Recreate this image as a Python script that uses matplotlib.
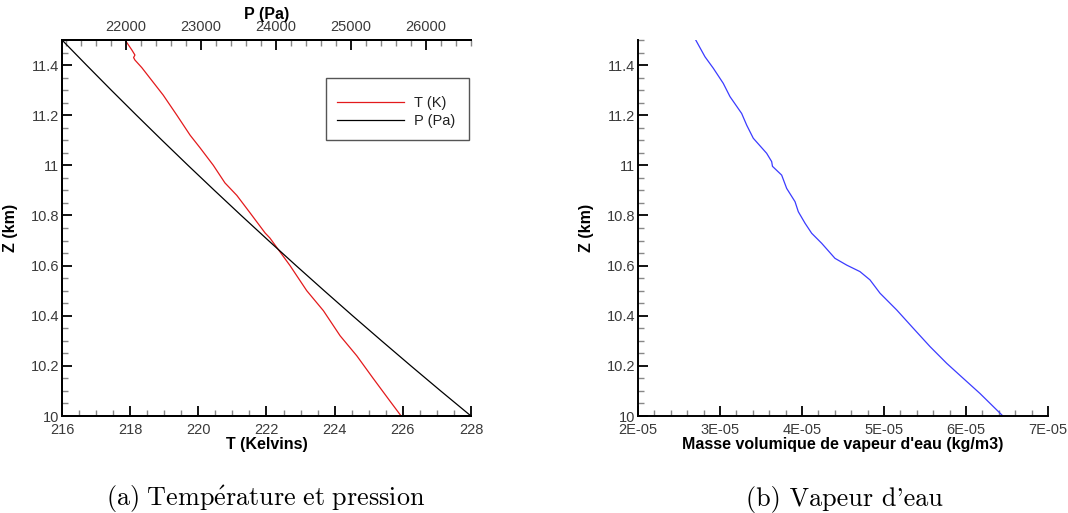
import matplotlib
matplotlib.use("Agg")
import matplotlib.pyplot as plt
from matplotlib.patches import Rectangle
from matplotlib.ticker import MultipleLocator, FuncFormatter

# ---- data ----
# (a) temperature profile
z_temp = [11.50, 11.46, 11.44, 11.43, 11.42, 11.39, 11.28, 11.20, 11.12, 11.07,
          11.00, 10.93, 10.88, 10.81, 10.73, 10.71, 10.60, 10.50, 10.42, 10.32,
          10.24, 10.15, 10.06, 10.00]
temp_k = [217.85, 218.05, 218.14, 218.10, 218.14, 218.34, 218.97, 219.37, 219.76, 220.05,
          220.44, 220.78, 221.13, 221.52, 221.96, 222.10, 222.69, 223.18, 223.67, 224.16,
          224.65, 225.13, 225.62, 225.95]

# (a) pressure profile
z_pres = [10.0, 10.1, 10.2, 10.3, 10.4, 10.5, 10.6, 10.7, 10.8, 10.9,
          11.0, 11.1, 11.2, 11.3, 11.4, 11.5]
pres_pa = [26600, 26196, 25799, 25408, 25022, 24643, 24269, 23901, 23538, 23181,
           22829, 22483, 22142, 21806, 21476, 21150]

# (b) water vapour density profile
z_vap = [11.500, 11.433, 11.387, 11.327, 11.274, 11.207, 11.160, 11.108, 11.048, 11.015,
         10.996, 10.961, 10.908, 10.855, 10.815, 10.769, 10.729, 10.689, 10.629, 10.602,
         10.576, 10.543, 10.490, 10.423, 10.350, 10.277, 10.210, 10.150, 10.090, 10.000]
rho_vap = [2.704e-5, 2.817e-5, 2.919e-5, 3.040e-5, 3.122e-5, 3.264e-5, 3.326e-5, 3.406e-5,
           3.569e-5, 3.630e-5, 3.640e-5, 3.752e-5, 3.813e-5, 3.915e-5, 3.955e-5, 4.037e-5,
           4.118e-5, 4.240e-5, 4.402e-5, 4.545e-5, 4.707e-5, 4.829e-5, 4.951e-5, 5.155e-5,
           5.357e-5, 5.561e-5, 5.765e-5, 5.967e-5, 6.170e-5, 6.450e-5]

z_limits = (10.0, 11.5)
t_limits = (216, 228)
p_limits = (21150, 26600)
rho_limits = (2e-5, 7e-5)

labels = {
    "z": "Z (km)",
    "t": "T (Kelvins)",
    "p": "P (Pa)",
    "rho": "Masse volumique de vapeur d'eau (kg/m3)",
    "leg_t": "T (K)",
    "leg_p": "P (Pa)",
    "cap_a": r"$\mathrm{(a)\ Temp\acute{e}rature\ et\ pression}$",
    "cap_b": "(b) Vapeur d'eau",
}

# ---- style ----
plt.rcParams["font.family"] = ["Liberation Sans", "DejaVu Sans"]
plt.rcParams["mathtext.fontset"] = "cm"
TICK_COLOR = "#3a3a3a"
TICK_SIZE = 10.5
LABEL_SIZE = 11.5
CAPTION_SIZE = 18.8
W, H = 1068, 513


def style_axis(ax, which_spines):
    for name, sp in ax.spines.items():
        sp.set_visible(name in which_spines)
        sp.set_linewidth(1.4)
        sp.set_color("black")
    ax.tick_params(which="major", direction="in", length=7, width=1.3,
                   color="black", labelsize=TICK_SIZE, labelcolor=TICK_COLOR)
    ax.tick_params(which="minor", direction="in", length=4, width=1.0,
                   color="#888888")


def zfmt(v, _):
    return f"{v:g}"


fig = plt.figure(figsize=(W / 100, H / 100), dpi=100)

# ---- (a) temperature and pressure ----
ax_t = fig.add_axes([62 / W, 97 / H, 409 / W, 376 / H])
ax_t.plot(temp_k, z_temp, color="#e31a1c", lw=0.9, label=labels["leg_t"])
ax_t.set_xlim(*t_limits)
ax_t.set_ylim(*z_limits)
ax_t.xaxis.set_major_locator(MultipleLocator(2))
ax_t.xaxis.set_minor_locator(MultipleLocator(0.5))
ax_t.yaxis.set_major_locator(MultipleLocator(0.2))
ax_t.yaxis.set_minor_locator(MultipleLocator(0.05))
ax_t.yaxis.set_major_formatter(FuncFormatter(zfmt))
style_axis(ax_t, ["left", "bottom", "top"])
ax_t.tick_params(axis="x", which="both", top=False)
ax_t.tick_params(axis="x", pad=5)
ax_t.tick_params(axis="y", pad=2)
ax_t.set_xlabel(labels["t"], fontsize=LABEL_SIZE, fontweight="bold", labelpad=0)
ax_t.set_ylabel(labels["z"], fontsize=LABEL_SIZE, fontweight="bold")
ax_t.yaxis.set_label_coords(-44 / 409, 0.5)

ax_p = ax_t.twiny()
ax_p.plot(pres_pa, z_pres, color="black", lw=0.9, label=labels["leg_p"])
ax_p.set_xlim(*p_limits)
ax_p.xaxis.set_major_locator(MultipleLocator(1000))
ax_p.xaxis.set_minor_locator(MultipleLocator(200))
style_axis(ax_p, ["left", "bottom", "top"])
ax_p.tick_params(axis="x", pad=4)
ax_p.set_xlabel(labels["p"], fontsize=LABEL_SIZE, fontweight="bold", labelpad=1)

# legend: frame box plus entries placed inside it
frame = Rectangle((326 / W, 1 - 140 / H), 143 / W, 62 / H, transform=fig.transFigure,
                  facecolor="white", edgecolor="#555555", lw=1.0, zorder=5)
fig.add_artist(frame)
handles = ax_t.get_lines() + ax_p.get_lines()
leg = fig.legend(handles=handles, labels=[h.get_label() for h in handles],
                 loc="center left", bbox_to_anchor=(337 / W, 1 - 112 / H),
                 bbox_transform=fig.transFigure, fontsize=TICK_SIZE,
                 frameon=False, borderpad=0, handlelength=4.6,
                 handletextpad=0.7, labelspacing=0.25, borderaxespad=0)
leg.set_zorder(6)
for txt in leg.get_texts():
    txt.set_color("#222222")

# ---- (b) water vapour ----
ax_v = fig.add_axes([638 / W, 97 / H, 410 / W, 376 / H])
ax_v.plot(rho_vap, z_vap, color="#3b3bff", lw=0.9)
ax_v.set_xlim(*rho_limits)
ax_v.set_ylim(*z_limits)
ax_v.xaxis.set_major_locator(MultipleLocator(1e-5))
ax_v.xaxis.set_minor_locator(MultipleLocator(2e-6))
ax_v.xaxis.set_major_formatter(FuncFormatter(lambda v, _: f"{v:.0E}"))
ax_v.yaxis.set_major_locator(MultipleLocator(0.2))
ax_v.yaxis.set_minor_locator(MultipleLocator(0.05))
ax_v.yaxis.set_major_formatter(FuncFormatter(zfmt))
style_axis(ax_v, ["left", "bottom"])
ax_v.tick_params(axis="x", pad=5)
ax_v.tick_params(axis="y", pad=2)
ax_v.set_xlabel(labels["rho"], fontsize=LABEL_SIZE, fontweight="bold", labelpad=0)
ax_v.set_ylabel(labels["z"], fontsize=LABEL_SIZE, fontweight="bold")
ax_v.yaxis.set_label_coords(-44 / 410, 0.5)

# ---- captions ----
fig.text(266 / W, 1 - 506 / H, labels["cap_a"], fontsize=CAPTION_SIZE,
         ha="center", va="baseline")
fig.text(844 / W, 1 - 506 / H, labels["cap_b"], fontsize=CAPTION_SIZE,
         family="cmr10", ha="center", va="baseline")

fig.savefig("out.png", dpi=100, facecolor="white")
